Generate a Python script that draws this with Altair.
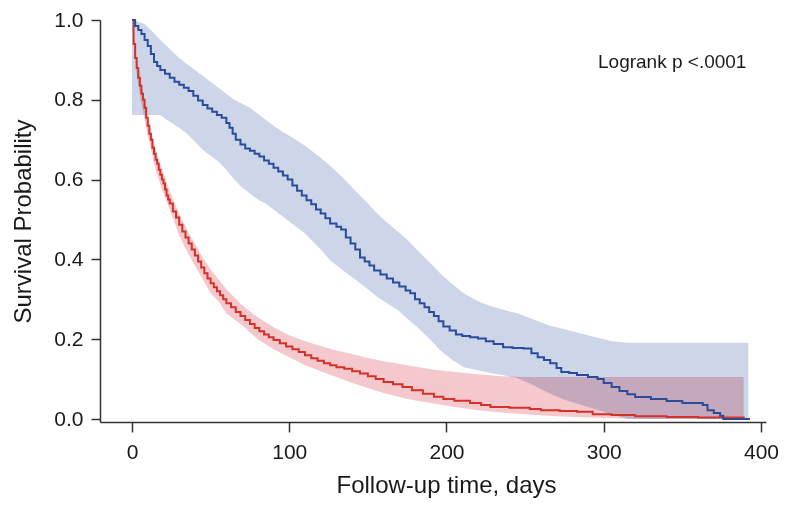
import altair as alt
import pandas as pd

# ---------------- data ----------------
red_t = [0,1,2,3,4,5,6,7,8,9,10,11,12,13,14,15,16,17,18,19,20,21,22,23,24,
         26,28,30,32,34,36,38,40,42,44,46,48,50,52,54,56,58,60,
         63,66,69,72,75,78,81,84,87,90,
         94,98,102,106,110,114,118,122,126,130,
         135,140,145,150,155,160,
         166,172,178,185,192,198,205,215,222,228,
         240,253,260,272,283,293,305,320,340,360,389]
red_s = [1.0,0.94,0.905,0.88,0.855,0.835,0.815,0.80,0.78,0.755,0.735,0.715,0.70,0.68,0.665,0.65,0.64,0.625,0.612,0.60,0.59,0.575,0.56,0.55,0.54,
         0.52,0.505,0.487,0.47,0.455,0.44,0.425,0.41,0.395,0.38,0.365,0.352,0.34,0.33,0.32,0.31,0.30,0.29,
         0.28,0.268,0.258,0.248,0.238,0.228,0.22,0.212,0.205,0.198,
         0.19,0.182,0.175,0.168,0.16,0.152,0.146,0.14,0.135,0.13,
         0.126,0.12,0.114,0.107,0.10,0.093,
         0.087,0.08,0.072,0.063,0.056,0.05,0.046,0.04,0.035,0.03,
         0.028,0.025,0.022,0.02,0.018,0.012,0.01,0.007,0.005,0.004,0.002]

blue_t = [0,2,4,6,8,10,12,14,16,18,21,24,27,30,33,36,39,42,45,48,
          51,54,57,60,62,64,66,69,72,75,78,81,84,87,90,93,96,99,102,105,
          108,111,114,117,120,123,126,130,133,136,139,142,145,148,151,154,158,162,166,170,
          174,177,180,183,186,189,192,195,198,202,206,210,215,220,225,230,236,242,249,254,
          258,262,266,270,273,278,283,290,296,300,305,310,315,320,330,340,350,363,366,370,
          374,376,393]
blue_s = [1.0,0.985,0.975,0.965,0.95,0.935,0.915,0.895,0.885,0.875,0.865,0.855,0.845,0.838,0.83,0.822,0.81,0.798,0.787,0.778,
          0.77,0.762,0.755,0.742,0.73,0.715,0.70,0.688,0.678,0.672,0.665,0.658,0.648,0.64,0.63,0.62,0.61,0.60,0.585,0.572,
          0.56,0.548,0.538,0.525,0.515,0.503,0.49,0.482,0.475,0.455,0.44,0.425,0.405,0.395,0.385,0.372,0.362,0.352,0.342,0.332,
          0.322,0.315,0.30,0.29,0.28,0.268,0.258,0.245,0.232,0.222,0.212,0.208,0.205,0.202,0.195,0.188,0.18,0.178,0.177,0.165,
          0.155,0.148,0.14,0.128,0.118,0.115,0.11,0.105,0.10,0.09,0.08,0.07,0.062,0.055,0.05,0.045,0.04,0.035,0.022,0.015,
          0.008,0.0,0.0]

red_band_t = [0,3,6,10,15,20,25,30,35,40,45,50,55,60,70,80,90,100,110,120,
              130,140,150,160,175,190,205,220,235,250,270,290,310,330,389]
red_band_hi = [1.0,0.90,0.84,0.76,0.675,0.615,0.56,0.515,0.475,0.44,
               0.405,0.375,0.35,0.325,0.285,0.255,0.23,0.21,0.195,0.183,
               0.172,0.163,0.153,0.145,0.135,0.125,0.118,0.112,0.107,0.105,
               0.105,0.105,0.105,0.105,0.105]
red_band_lo = [1.0,0.86,0.79,0.71,0.625,0.565,0.515,0.46,0.42,0.385,
               0.35,0.315,0.295,0.265,0.235,0.20,0.175,0.155,0.135,0.12,
               0.105,0.09,0.078,0.065,0.05,0.04,0.03,0.022,0.016,0.012,
               0.007,0.004,0.002,0.0,0.0]

blue_band_t = [0,8,12,18,22,26,30,35,40,45,50,55,60,65,70,75,80,85,90,95,
               100,105,110,115,120,126,134,140,145,150,156,160,169,175,181,190,196,203,211,220,
               228,235,245,255,265,275,290,305,315,392]
blue_band_hi = [1.0,0.99,0.975,0.95,0.935,0.92,0.905,0.89,0.875,0.86,
                0.845,0.83,0.815,0.80,0.79,0.78,0.765,0.75,0.735,0.722,
                0.71,0.698,0.685,0.67,0.655,0.635,0.605,0.58,0.56,0.54,
                0.515,0.50,0.47,0.45,0.425,0.39,0.365,0.34,0.315,0.295,
                0.283,0.275,0.265,0.25,0.235,0.225,0.21,0.195,0.191,0.191]
blue_band_lo = [0.762,0.762,0.762,0.762,0.75,0.74,0.73,0.715,0.695,0.675,
                0.66,0.645,0.625,0.60,0.58,0.565,0.55,0.54,0.525,0.51,
                0.495,0.48,0.465,0.445,0.425,0.398,0.373,0.355,0.341,0.325,
                0.306,0.296,0.273,0.252,0.231,0.198,0.172,0.15,0.13,0.122,
                0.115,0.11,0.103,0.085,0.065,0.048,0.03,0.012,0.0,0.0]

x_ticks = [0, 100, 200, 300, 400]
y_ticks = [0.0, 0.2, 0.4, 0.6, 0.8, 1.0]
annotation = ["Logrank p <.0001"]

# ---------------- chart ----------------
FONT = "Liberation Sans"
red_line_df = pd.DataFrame({"t": red_t, "s": red_s})
blue_line_df = pd.DataFrame({"t": blue_t, "s": blue_s})
red_band_df = pd.DataFrame({"t": red_band_t, "hi": red_band_hi, "lo": red_band_lo})
blue_band_df = pd.DataFrame({"t": blue_band_t, "hi": blue_band_hi, "lo": blue_band_lo})

xs = alt.Scale(domain=[-20.35, 403.2], nice=False, zero=False)
ys = alt.Scale(domain=[-0.0075, 1.0], nice=False, zero=False)

x_axis = alt.Axis(values=x_ticks, format="d", tickSize=10, labelPadding=9,
                  titlePadding=11, title="Follow-up time, days", labelFlush=False,
                  titleX=346)
y_axis = alt.Axis(values=y_ticks, format=".1f", tickSize=9, labelPadding=8,
                  titlePadding=18, title="Survival Probability", labelFlush=False)

blue_band = alt.Chart(blue_band_df).mark_area(color="#cdd6e9", opacity=1).encode(
    x=alt.X("t:Q", scale=xs, axis=x_axis),
    y=alt.Y("hi:Q", scale=ys, axis=y_axis),
    y2="lo:Q",
)
red_band = alt.Chart(red_band_df).mark_area(color="#f5c8cd", opacity=1,
                                            blend="multiply").encode(
    x=alt.X("t:Q", scale=xs),
    y=alt.Y("hi:Q", scale=ys),
    y2="lo:Q",
)
red_line = alt.Chart(red_line_df).mark_line(color="#d23228", strokeWidth=2,
                                            interpolate="step-after").encode(
    x=alt.X("t:Q", scale=xs),
    y=alt.Y("s:Q", scale=ys),
)
blue_line = alt.Chart(blue_line_df).mark_line(color="#2b4c9b", strokeWidth=2,
                                              interpolate="step-after").encode(
    x=alt.X("t:Q", scale=xs),
    y=alt.Y("s:Q", scale=ys),
)
label = alt.Chart(pd.DataFrame({"label": annotation})).mark_text(
    align="left", baseline="middle", fontSize=19, font=FONT, color="#1a1a1a"
).encode(text="label:N", x=alt.value(498), y=alt.value(42))

chart = alt.layer(blue_band, red_band, red_line, blue_line, label).properties(
    width=666, height=402,
    autosize=alt.AutoSizeParams(type="none"),
    padding={"left": 92, "top": 12, "right": 13, "bottom": 78},
).configure_view(stroke=None).configure_axis(
    domainColor="#333333", domainWidth=1.5, tickColor="#333333", tickWidth=1.5,
    grid=False, labelFont=FONT, titleFont=FONT, labelFontSize=21, titleFontSize=24,
    titleFontWeight="normal", labelColor="#1a1a1a", titleColor="#1a1a1a",
)

chart.save("out.html", embed_options={"renderer": "svg", "actions": False})
